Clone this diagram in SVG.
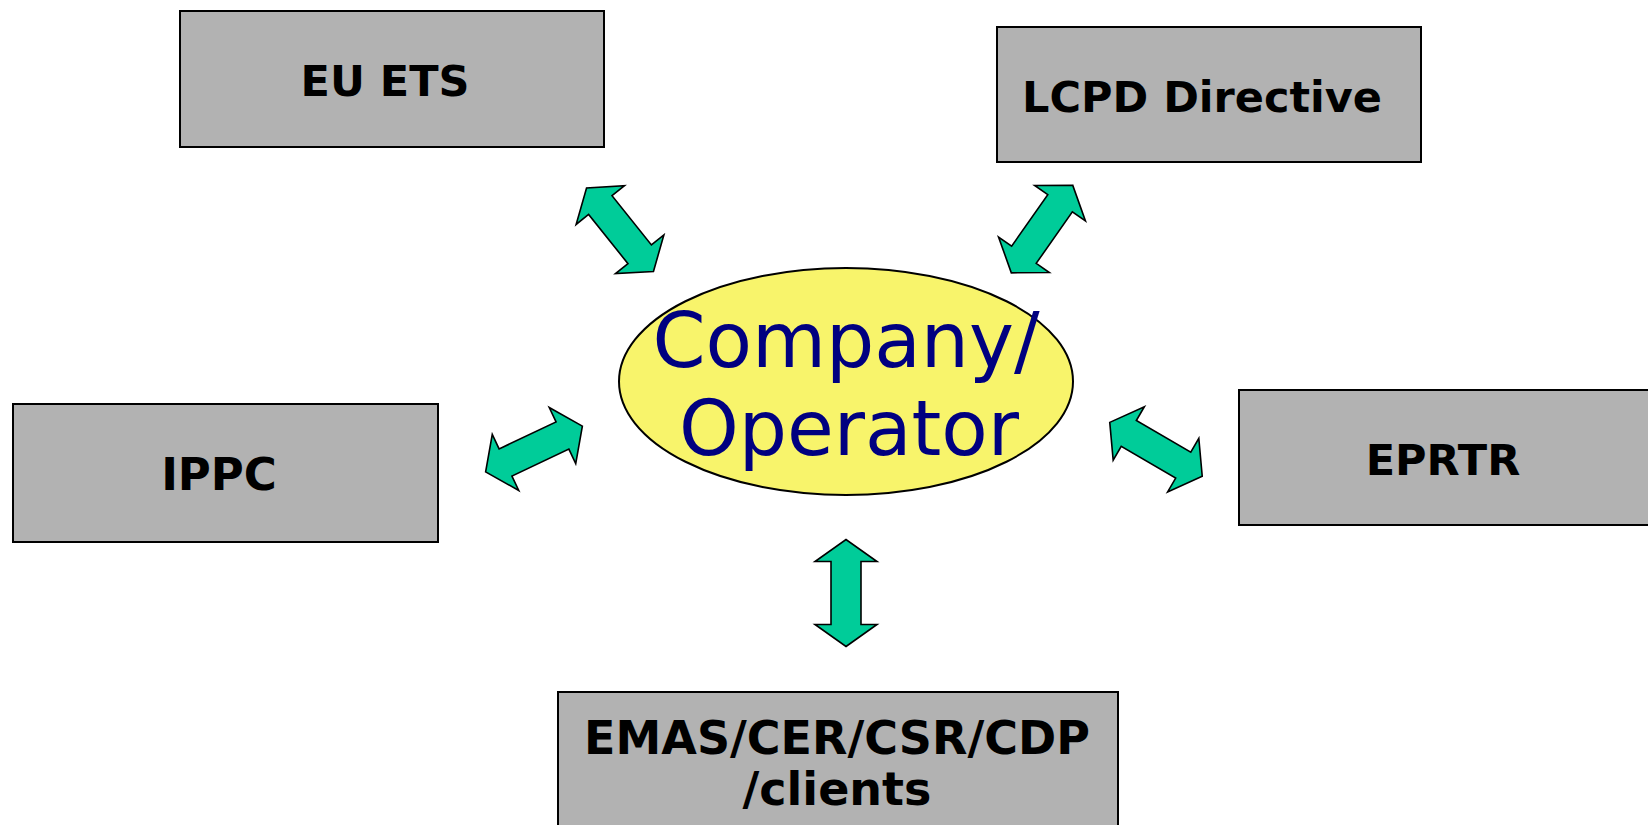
<svg xmlns="http://www.w3.org/2000/svg" width="1648" height="825" viewBox="0 0 1648 825">
<style>
.box{fill:#b2b2b2;stroke:#000;stroke-width:2}
.lbl{font-family:"DejaVu Sans",Verdana,sans-serif;font-weight:bold;font-size:43px;fill:#000;text-anchor:middle}
.arr{fill:#00cc99;stroke:#000;stroke-width:1.6;stroke-linejoin:miter}
.ctr{font-family:"DejaVu Sans",Verdana,sans-serif;font-size:76px;fill:#000080;text-anchor:middle}
</style>
<defs>
<polygon id="dbl" points="53.5,0 31.5,-31 31.5,-15 -31.5,-15 -31.5,-31 -53.5,0 -31.5,31 -31.5,15 31.5,15 31.5,31"/>
</defs>
<rect width="1648" height="825" fill="#fff"/>
<g id="connectors">
<use href="#dbl" class="arr" transform="translate(620,229.7) rotate(51.3)"/>
<use href="#dbl" class="arr" transform="translate(1042,229) rotate(-55)"/>
<use href="#dbl" class="arr" transform="translate(534,449) rotate(-25.3)"/>
<use href="#dbl" class="arr" transform="translate(1156,449.3) rotate(30.2)"/>
<use href="#dbl" class="arr" transform="translate(846,593) rotate(90)"/>
</g>
<g id="eu-ets">
<rect class="box" x="180" y="11" width="424" height="136"/>
<text class="lbl" x="385" y="96">EU ETS</text>
</g>
<g id="lcpd">
<rect class="box" x="997" y="27" width="424" height="135"/>
<text class="lbl" x="1202" y="112">LCPD Directive</text>
</g>
<g id="ippc">
<rect class="box" x="13" y="404" width="425" height="138"/>
<text class="lbl" x="219" y="490" style="font-size:45px">IPPC</text>
</g>
<g id="eprtr">
<rect class="box" x="1239" y="390" width="424" height="135"/>
<text class="lbl" x="1443" y="475">EPRTR</text>
</g>
<g id="emas">
<rect class="box" x="558" y="692" width="560" height="140"/>
<text class="lbl" x="837" y="754" style="font-size:46px">EMAS/CER/CSR/CDP</text>
<text class="lbl" x="837" y="805" style="font-size:46px">/clients</text>
</g>
<g id="company">
<ellipse cx="846" cy="381.5" rx="227" ry="113.5" fill="#f8f46b" stroke="#000" stroke-width="2"/>
<text class="ctr" x="846" y="367">Company/</text>
<text class="ctr" x="849" y="455">Operator</text>
</g>
</svg>
